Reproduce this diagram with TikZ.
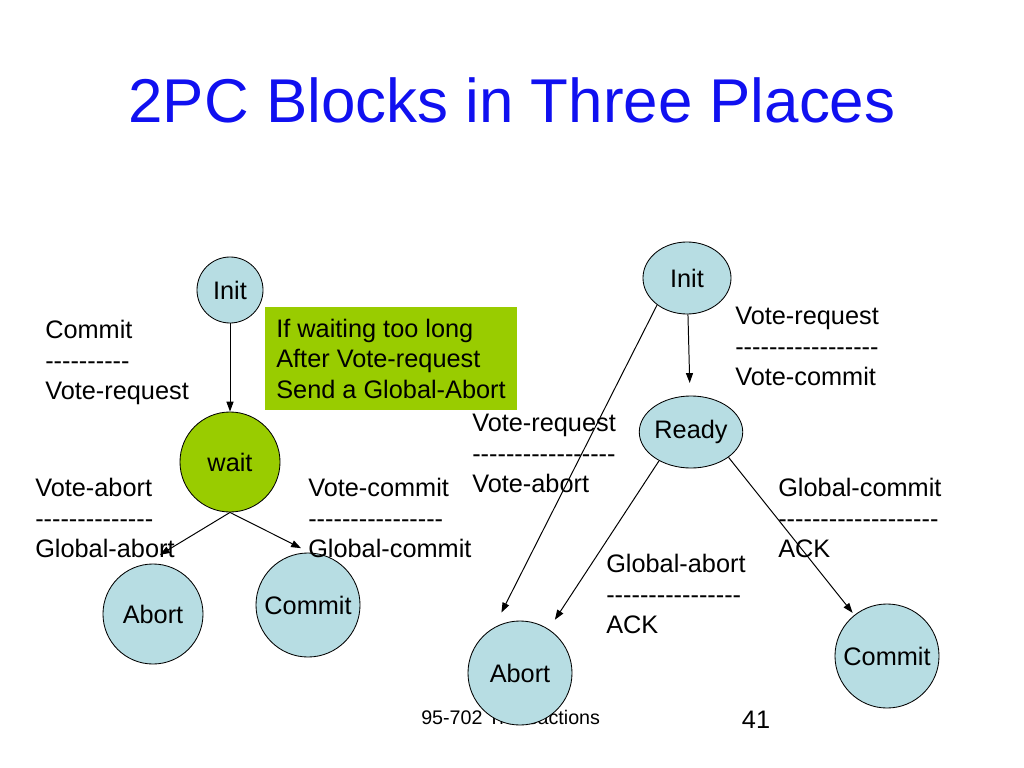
\documentclass[tikz,border=0pt]{standalone}
\usepackage{fontspec}
\setmainfont{Liberation Sans}
\usetikzlibrary{arrows.meta,shapes.geometric}
\definecolor{stateblue}{RGB}{183,221,227}
\definecolor{stategreen}{RGB}{153,204,0}
\definecolor{titleblue}{RGB}{16,16,240}
\newcommand\dashline[1]{\foreach \n in {1,...,#1}{-\kern0pt}}

\begin{document}
\begin{tikzpicture}[x=0.025cm,y=-0.025cm]
\tikzstyle{every node}+=[inner sep=0pt]
\tikzstyle{txt}=[font=\fontsize{18}{21.7}\selectfont]
\tikzstyle{state}=[txt,draw=black,line width=0.6pt,fill=stateblue,circle]
\tikzstyle{rstate}=[txt,draw=black,line width=0.6pt,fill=stateblue,ellipse,minimum width=2.2cm,minimum height=1.8cm]
\tikzstyle{lbl}=[txt,anchor=north west,align=left]
\tikzstyle{trans}=[-{Triangle[length=7pt,width=5pt]},line width=0.7pt]
\useasboundingbox (0,0) rectangle (1024,768);
\node [font=\fontsize{44}{53}\selectfont,text=titleblue] (title) at (512,100) {2PC Blocks in Three Places};
\node [anchor=west,font=\fontsize{14}{17}\selectfont] (foot) at (421,717) {95-702 Transactions};
\node [txt] (page) at (756,720) {41};
\node [state,minimum size=1.65cm] (linit) at (230,290) {Init};
\node [state,fill=stategreen,minimum size=2.5cm] (wait) at (230,462) {wait};
\node [state,minimum size=2.5cm] (labort) at (153,614) {Abort};
\node [state,minimum size=2.6cm] (lcommit) at (308,605) {Commit};
\node [txt,fill=stategreen,align=left,minimum width=6.3cm,minimum height=2.575cm] (note) at (391,358.5) {If waiting too long\\After Vote-request\\Send a Global-Abort};
\node [rstate] (rinit) at (687,278) {Init};
\node [rstate] (ready) at (691,432) {Ready};
\node [state,minimum size=2.6cm] (rabort) at (520,673) {Abort};
\node [state,minimum size=2.6cm] (rcommit) at (887,656) {Commit};
\draw [trans] (linit) -- (wait);
\draw [trans,shorten >=13pt] (wait.south) -- (labort.100);
\draw [trans,shorten >=7pt] (wait.south) -- (lcommit.88);
\draw [trans,shorten >=9pt] (rinit) -- (ready);
\draw [trans,shorten >=12pt] (rinit.222) -- (rabort.120);
\draw [trans,shorten >=8pt] (ready.222) -- (rabort);
\draw [trans,shorten >=2pt] (ready.-34) -- (rcommit);
\node [lbl] (l1) at (45,320) {Commit\\\dashline{10}\\Vote-request};
\node [lbl] (l2) at (35,478) {Vote-abort\\\dashline{14}\\Global-abort};
\node [lbl] (l3) at (308,478) {Vote-commit\\\dashline{16}\\Global-commit};
\node [lbl] (l4) at (472,414) {Vote-request\\\dashline{17}\\Vote-abort};
\node [lbl] (l5) at (735,307) {Vote-request\\\dashline{17}\\Vote-commit};
\node [lbl] (l6) at (778,478) {Global-commit\\\dashline{19}\\ACK};
\node [lbl] (l7) at (606,554) {Global-abort\\\dashline{16}\\ACK};
\end{tikzpicture}
\end{document}
